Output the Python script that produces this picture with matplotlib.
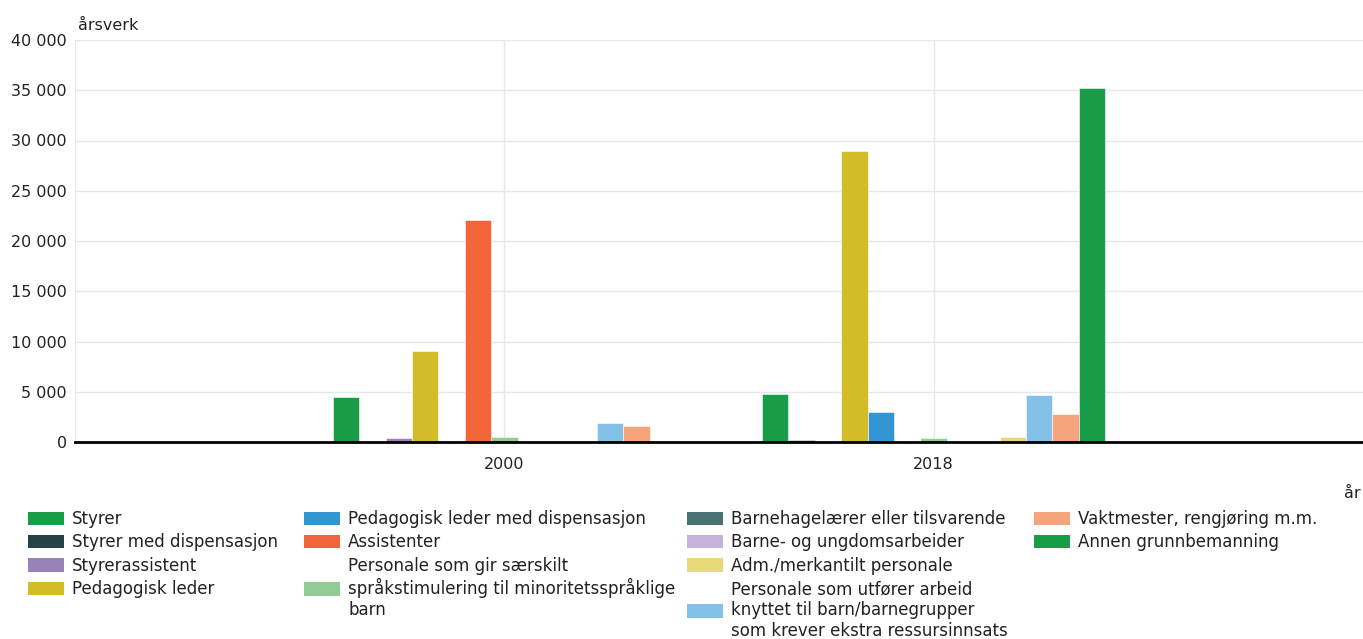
import matplotlib
matplotlib.use("Agg")
import matplotlib.pyplot as plt
from matplotlib.patches import Patch
from matplotlib.ticker import FuncFormatter, MultipleLocator
import numpy as np

# data (årsverk)
years = ["2000", "2018"]
series = [
    "Styrer",
    "Styrer med dispensasjon",
    "Styrerassistent",
    "Pedagogisk leder",
    "Pedagogisk leder med dispensasjon",
    "Assistenter",
    "Personale som gir særskilt\nspråkstimulering til minoritetsspråklige\nbarn",
    "Barnehagelærer eller tilsvarende",
    "Barne- og ungdomsarbeider",
    "Adm./merkantilt personale",
    "Personale som utfører arbeid\nknyttet til barn/barnegrupper\nsom krever ekstra ressursinnsats",
    "Vaktmester, rengjøring m.m.",
    "Annen grunnbemanning",
]
values_2000 = [4500, 0, 400, 9100, 0, 22100, 500, 0, 0, 0, 1900, 1600, 0]
values_2018 = [4800, 200, 0, 29000, 3000, 0, 350, 0, 0, 500, 4650, 2800, 35200]
colours = ["#1a9d49", "#274247", "#9883b9", "#d2bc2a", "#3396d2", "#f26539",
           "#90cc93", "#4b7272", "#c3b3d8", "#e7d878", "#83c1e9", "#f6a47b",
           "#1a9d49"]

# legend columns as in the original
legend_cols = [[0, 1, 2, 3], [4, 5, 6], [7, 8, 9, 10], [11, 12]]

plt.rcParams['font.family'] = ['DejaVu Sans']
fig = plt.figure(figsize=(13.63, 6.39), dpi=100)
ax = fig.add_axes([75 / 1363, 1 - 442 / 639, 1 - 75 / 1363, (442 - 40) / 639])

x = np.arange(len(years))
w = 0.0615
for i, name in enumerate(series):
    vals = [values_2000[i], values_2018[i]]
    ax.bar(x + (i - 6) * w, vals, w, color=colours[i], edgecolor="white",
           linewidth=0.4, zorder=3)

ax.set_xlim(-1, 2)
ax.set_ylim(0, 40000)
ax.yaxis.set_major_locator(MultipleLocator(5000))
ax.yaxis.set_major_formatter(FuncFormatter(lambda v, p: "{:,.0f}".format(v).replace(",", " ")))
ax.set_xticks(x)
ax.set_xticklabels(years)
ax.tick_params(axis="both", length=0, labelsize=11.5, colors="#222222", pad=6)
ax.tick_params(axis="x", pad=11)
ax.grid(True, color="#e4e9e9", linewidth=1, zorder=0)
for s in ["left", "top", "right"]:
    ax.spines[s].set_color("#e4e9e9")
ax.spines["right"].set_visible(False)
ax.spines["bottom"].set_color("black")
ax.spines["bottom"].set_linewidth(2)
ax.spines["bottom"].set_zorder(4)

fig.text(78 / 1363, 1 - 25 / 639, "årsverk", fontsize=11.5, va="center", ha="left", color="#222222")
fig.text(1361 / 1363, 1 - 493 / 639, "år", fontsize=11.5, va="center", ha="right", color="#222222")

col_x = [28, 304, 687, 1034]
for c, idx in enumerate(legend_cols):
    handles = [Patch(facecolor=colours[i], edgecolor="none") for i in idx]
    labels = [series[i] for i in idx]
    leg = fig.legend(handles, labels, loc="upper left",
                     bbox_to_anchor=(col_x[c] / 1363, 1 - 510 / 639),
                     frameon=False, fontsize=12, handlelength=2.15,
                     handleheight=0.85, handletextpad=0.5, labelspacing=0.32,
                     borderpad=0, borderaxespad=0)
    for t in leg.get_texts():
        t.set_color("#222222")
        t.set_linespacing(1.2)

fig.savefig("out.png", dpi=100)
